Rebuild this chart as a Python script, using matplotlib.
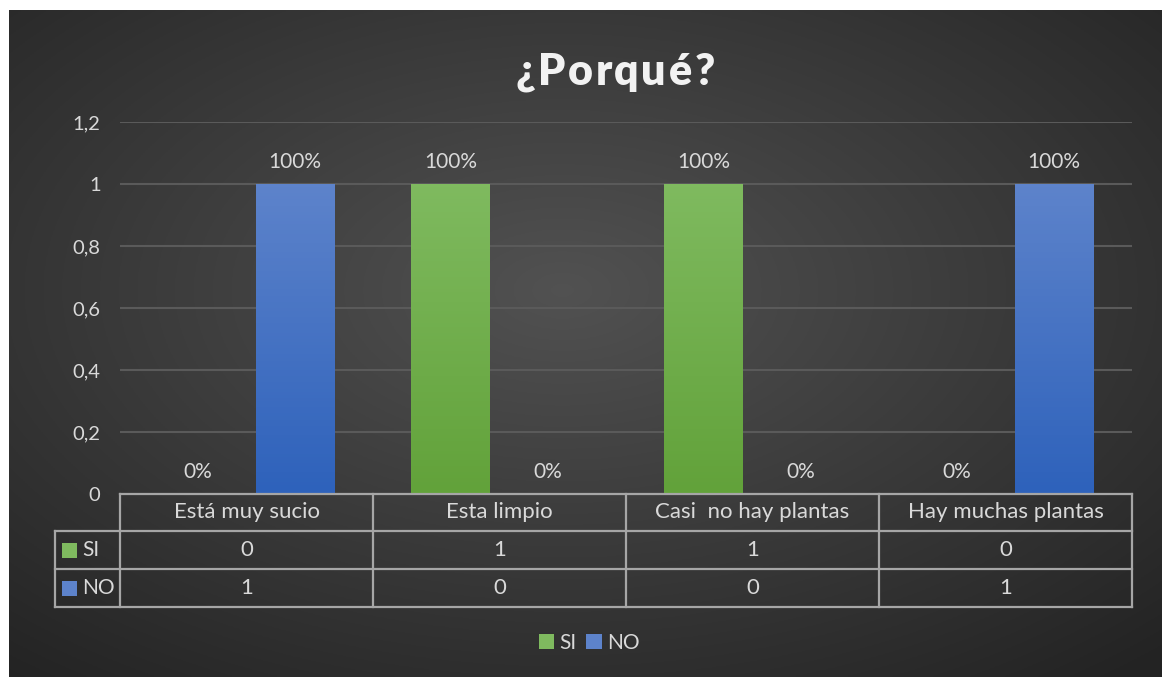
import numpy as np
import matplotlib
matplotlib.use('Agg')
import matplotlib.pyplot as plt
import matplotlib.transforms as mtransforms
from matplotlib.patches import Rectangle
from matplotlib.colors import LinearSegmentedColormap

# data
categories = ['Está muy sucio', 'Esta limpio', 'Casi  no hay plantas', 'Hay muchas plantas']
si_values = [0, 1, 1, 0]
no_values = [1, 0, 0, 1]
series_names = ['SI', 'NO']
y_ticks = [0, 0.2, 0.4, 0.6, 0.8, 1, 1.2]
y_tick_labels = ['0', '0,2', '0,4', '0,6', '0,8', '1', '1,2']
title = '¿Porqué?'

plt.rcParams['font.family'] = ['Lato', 'DejaVu Sans']
txt_color = '#d9d9d9'
line_color = '#a6a6a6'
green_top, green_bot = '#7fba5f', '#62a23a'
blue_top, blue_bot = '#5d83cb', '#2e62bb'

W, H = 1162, 677
fig = plt.figure(figsize=(W / 100, H / 100), dpi=100, facecolor='white')

# dark radial background (white strip left / top like the screenshot)
bg = fig.add_axes([9 / W, 0, (W - 9) / W, (H - 10) / H])
bg.set_axis_off()
yy, xx = np.mgrid[0:1:300j, 0:1:500j]
r = np.sqrt(((xx - 0.48) / 0.75) ** 2 + ((yy - 0.42) / 0.75) ** 2)
shade = np.clip(0.32 - 0.18 * r, 0.14, 1)
bg.imshow(np.dstack([shade] * 3), extent=[0, 1, 0, 1], aspect='auto')
bg.set_xlim(0, 1)
bg.set_ylim(0, 1)

# main plot area
ax = fig.add_axes([120 / W, 1 - 494 / H, 1012 / W, 372 / H])
ax.patch.set_alpha(0)

x = np.arange(len(categories))
width = 0.312
off = 0.192

bars_si = ax.bar(x - off, si_values, width, color=green_bot, zorder=2)
bars_no = ax.bar(x + off, no_values, width, color=blue_bot, zorder=2)

grad = np.linspace(1, 0, 100).reshape(-1, 1)
for bars, top, bot in [(bars_si, green_top, green_bot), (bars_no, blue_top, blue_bot)]:
    cmap = LinearSegmentedColormap.from_list('g', [bot, top])
    for b in bars:
        h = b.get_height()
        if h <= 0:
            continue
        im = ax.imshow(grad, extent=[b.get_x(), b.get_x() + b.get_width(), 0, h],
                       aspect='auto', cmap=cmap, vmin=0, vmax=1, zorder=3)
        im.set_clip_path(b)

# data labels
for bars, vals in [(bars_si, si_values), (bars_no, no_values)]:
    for b, v in zip(bars, vals):
        ax.annotate(f'{v:.0%}', (b.get_x() + b.get_width() / 2, v),
                    xytext=(0, 11.5), textcoords='offset points',
                    ha='center', va='baseline', color=txt_color, fontsize=15)

ax.set_xlim(-0.5, len(categories) - 0.5)
ax.set_ylim(0, 1.2)
ax.set_xticks([])
ax.set_yticks(y_ticks, y_tick_labels)
ax.tick_params(axis='y', length=0, pad=14, labelcolor=txt_color, labelsize=14.5)
ax.yaxis.grid(True, color='#5a5a5a', linewidth=1.5)
ax.set_axisbelow(True)
for s in ax.spines.values():
    s.set_visible(False)

# data table under the plot
trans = mtransforms.blended_transform_factory(ax.transData, ax.transAxes)
px = 1 / 253.0
row_y = [0, -37 / 372, -75 / 372, -113 / 372]
x_left = -0.5 - 65 * px
x_right = len(categories) - 0.5
kw = dict(transform=trans, clip_on=False, color=line_color, linewidth=1.6, zorder=5)

ax.plot([-0.5, x_right], [row_y[0]] * 2, **kw)
for yv in row_y[1:]:
    ax.plot([x_left, x_right], [yv, yv], **kw)
for k in range(len(categories) + 1):
    ax.plot([-0.5 + k] * 2, [row_y[0], row_y[-1]], **kw)
ax.plot([x_left] * 2, [row_y[1], row_y[-1]], **kw)

tfs = 16
for i, cat in enumerate(categories):
    ax.text(i, (row_y[0] + row_y[1]) / 2, cat, transform=trans, ha='center', va='center',
            color=txt_color, fontsize=tfs)
for r_i, (vals, name, col) in enumerate([(si_values, 'SI', green_top), (no_values, 'NO', blue_top)]):
    yc = (row_y[r_i + 1] + row_y[r_i + 2]) / 2
    for i, v in enumerate(vals):
        ax.text(i, yc, str(v), transform=trans, ha='center', va='center',
                color=txt_color, fontsize=tfs)
    ax.add_patch(Rectangle((-0.5 - 58 * px, yc - 7.5 / 372), 15 * px, 15 / 372,
                           transform=trans, clip_on=False, facecolor=col, edgecolor='none'))
    ax.text(-0.5 - 38 * px, yc, name, transform=trans, ha='left', va='center',
            color=txt_color, fontsize=15)

# title, drawn letter by letter for the wide spacing
renderer = fig.canvas.get_renderer()
tkw = dict(color='#f2f2f2', fontsize=31, fontweight='heavy', va='center', ha='left')
widths = []
for ch in title:
    t = fig.text(0, 0, ch, **tkw)
    widths.append(t.get_window_extent(renderer).width)
    t.remove()
gap = 2.5
total = sum(widths) + gap * (len(title) - 1)
xpos = 615 - total / 2
for ch, wch in zip(title, widths):
    fig.text(xpos / W, 1 - 72 / H, ch, **tkw)
    xpos += wch + gap

# legend
handles = [Rectangle((0, 0), 1, 1, facecolor=green_top), Rectangle((0, 0), 1, 1, facecolor=blue_top)]
fig.legend(handles, series_names, loc='center', bbox_to_anchor=(589 / W, 1 - 643 / H), ncol=2,
           frameon=False, handlelength=0.75, handleheight=0.75, handletextpad=0.25,
           columnspacing=0.45, labelcolor=txt_color, fontsize=15)

fig.savefig('out.png', dpi=100, facecolor=fig.get_facecolor())
